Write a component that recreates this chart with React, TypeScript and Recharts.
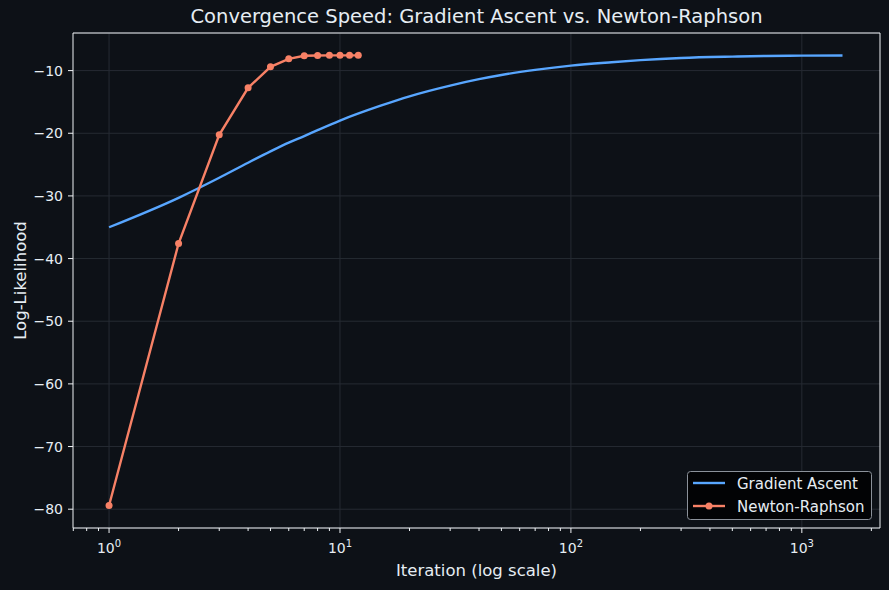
import { LineChart, Line, XAxis, YAxis, CartesianGrid, ReferenceLine, Legend } from 'recharts';

const gradientIters = [1, 2, 3, 4, 5, 6, 7, 8, 10, 15, 20, 30, 40, 50, 70, 100, 150, 200, 300, 500, 700, 1000, 1500];
const gradientLL = [-35.0, -30.3, -27.1, -24.7, -22.9, -21.5, -20.45, -19.5, -17.97, -15.6, -14.1, -12.39, -11.37, -10.7, -9.89, -9.2, -8.66, -8.33, -7.99, -7.77, -7.67, -7.61, -7.58];

const newtonIters = [1, 2, 3, 4, 5, 6, 7, 8, 9, 10, 11, 12];
const newtonLL = [-79.4, -37.6, -20.25, -12.75, -9.4, -8.12, -7.64, -7.58, -7.57, -7.57, -7.57, -7.57];

const yTicks = [-80, -70, -60, -50, -40, -30, -20, -10];
const majorTicks = [1, 10, 100, 1000];
const xTicks = [
  0.7, 0.8, 0.9,
  1, 2, 3, 4, 5, 6, 7, 8, 9,
  10, 20, 30, 40, 50, 60, 70, 80, 90,
  100, 200, 300, 400, 500, 600, 700, 800, 900,
  1000, 2000,
];

const gradientData = gradientIters.map((iter, i) => ({ iter, ll: gradientLL[i] }));
const newtonData = newtonIters.map((iter, i) => ({ iter, ll: newtonLL[i] }));

const BG = '#0d1117';
const FG = '#e6edf3';
const SPINE = '#f0f3f6';
const GRID = '#262b33';
const BLUE = '#58a6ff';
const ORANGE = '#f78166';
const FONT = '"DejaVu Sans", sans-serif';
const X_DOMAIN: [number, number] = [0.698, 2180];
const Y_DOMAIN: [number, number] = [-83, -4];

function LogTick(props: any) {
  const { x, y, payload } = props;
  const v = payload.value;
  const major = majorTicks.includes(v);
  const exp = Math.round(Math.log10(v));
  return (
    <g>
      <line x1={x} x2={x} y1={y} y2={y + (major ? 5 : 3)} stroke={SPINE} strokeWidth={1} />
      {major && (
        <text x={x} y={y + 24.5} textAnchor="middle" fill={FG} fontSize={14} fontFamily={FONT}>
          10
          <tspan dy={-5.5} fontSize={10}>{exp}</tspan>
        </text>
      )}
    </g>
  );
}

function LegendBox() {
  return (
    <svg width={185} height={49} style={{ display: 'block' }}>
      <rect x={0.5} y={0.5} width={184} height={48} rx={3} fill="#020305" stroke="#8b919a" strokeWidth={1} />
      <line x1={6} x2={38} y1={12} y2={12} stroke={BLUE} strokeWidth={2.4} />
      <text x={50} y={17.5} fill={FG} fontSize={15} fontFamily={FONT}>Gradient Ascent</text>
      <line x1={6} x2={38} y1={35} y2={35} stroke={ORANGE} strokeWidth={2.4} />
      <circle cx={22} cy={35} r={3.5} fill={ORANGE} />
      <text x={50} y={40.5} fill={FG} fontSize={15} fontFamily={FONT}>Newton-Raphson</text>
    </svg>
  );
}

export default function App() {
  return (
    <div style={{ position: 'fixed', left: 0, top: 0, width: 889, height: 590, background: BG, fontFamily: FONT }}>
      <div
        style={{
          position: 'absolute', left: 73, width: 807, top: 5, textAlign: 'center',
          color: FG, fontSize: 19.5, lineHeight: '24px',
        }}
      >
        Convergence Speed: Gradient Ascent vs. Newton-Raphson
      </div>
      <LineChart width={889} height={590} margin={{ top: 33, right: 9, bottom: 0, left: 0 }}>
        <XAxis
          xAxisId="main"
          dataKey="iter"
          type="number"
          scale="log"
          domain={X_DOMAIN}
          allowDataOverflow
          ticks={xTicks}
          interval={0}
          tick={<LogTick />}
          tickLine={false}
          tickSize={0}
          tickMargin={0}
          height={62}
          axisLine={{ stroke: SPINE, strokeWidth: 1 }}
          label={{
            content: (p: any) => {
              const vb = p.viewBox;
              return (
                <text x={vb.x + vb.width / 2} y={576} textAnchor="middle" fill={FG} fontSize={16.5} fontFamily={FONT}>
                  Iteration (log scale)
                </text>
              );
            },
          }}
        />
        <YAxis
          yAxisId="main"
          type="number"
          domain={Y_DOMAIN}
          allowDataOverflow
          ticks={yTicks}
          interval={0}
          width={73}
          tickSize={5}
          tickMargin={5}
          tickLine={{ stroke: SPINE }}
          axisLine={{ stroke: SPINE, strokeWidth: 1 }}
          tick={{ fill: FG, fontSize: 14, fontFamily: FONT }}
          tickFormatter={(v: number) => String(v).replace('-', '\u2212')}
          label={{
            content: (p: any) => {
              const vb = p.viewBox;
              const cy = vb.y + vb.height / 2;
              return (
                <text
                  x={20}
                  y={cy}
                  transform={`rotate(-90, 20, ${cy})`}
                  textAnchor="middle"
                  dominantBaseline="central"
                  fill={FG}
                  fontSize={16.5}
                  fontFamily={FONT}
                >
                  Log-Likelihood
                </text>
              );
            },
          }}
        />
        <CartesianGrid xAxisId="main" yAxisId="main" vertical={false} stroke={GRID} strokeWidth={1} />
        {majorTicks.map((t) => (
          <ReferenceLine key={t} x={t} xAxisId="main" yAxisId="main" stroke={GRID} strokeWidth={1} />
        ))}
        <Line
          xAxisId="main"
          yAxisId="main"
          data={gradientData}
          dataKey="ll"
          name="Gradient Ascent"
          type="monotone"
          stroke={BLUE}
          strokeWidth={2.4}
          dot={false}
          isAnimationActive={false}
        />
        <Line
          xAxisId="main"
          yAxisId="main"
          data={newtonData}
          dataKey="ll"
          name="Newton-Raphson"
          type="linear"
          stroke={ORANGE}
          strokeWidth={2.4}
          dot={{ r: 3.5, fill: ORANGE, stroke: ORANGE, strokeWidth: 0 }}
          isAnimationActive={false}
        />
        <ReferenceLine y={Y_DOMAIN[1]} xAxisId="main" yAxisId="main" stroke={SPINE} strokeWidth={1} />
        <ReferenceLine x={X_DOMAIN[1]} xAxisId="main" yAxisId="main" stroke={SPINE} strokeWidth={1} />
        <Legend
          layout="vertical"
          align="center"
          verticalAlign="middle"
          content={() => <LegendBox />}
          wrapperStyle={{ position: 'absolute', left: 687, top: 471, width: 185, height: 49, right: 'auto', bottom: 'auto' }}
        />
      </LineChart>
    </div>
  );
}
